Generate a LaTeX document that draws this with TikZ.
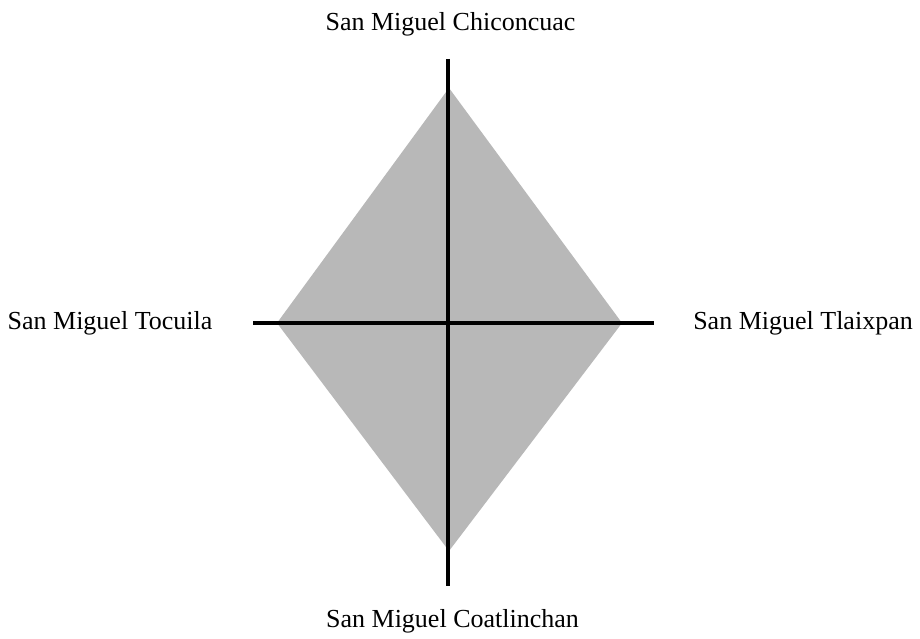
\documentclass[tikz,border=0pt]{standalone}
\usepackage{fontspec}
\setmainfont{Liberation Serif}
\definecolor{diamondgray}{RGB}{184,184,184}
\tikzset{
  lbl/.style={anchor=base, inner sep=0pt, font=\fontsize{26}{30}\selectfont},
  axisline/.style={draw=black, line width=4.5pt},
}
\begin{document}
\begin{tikzpicture}[x=1pt, y=-1pt]
\useasboundingbox[fill=white] (0,0) rectangle (920,639);
% diamond vertices
\coordinate (dt) at (449,88);
\coordinate (dr) at (622,323);
\coordinate (db) at (449,551);
\coordinate (dl) at (277,323);
\fill[diamondgray] (dt) -- (dr) -- (db) -- (dl) -- cycle;
% axis ends
\coordinate (vt) at (448,59);
\coordinate (vb) at (448,586);
\coordinate (hl) at (253,323);
\coordinate (hr) at (654,323);
\draw[axisline] (vt) -- (vb);
\draw[axisline] (hl) -- (hr);
% labels
\node[lbl] (top) at (450.5,31) {San Miguel Chiconcuac};
\node[lbl] (left) at (110,329) {San Miguel Tocuila};
\node[lbl] (right) at (803,329) {San Miguel Tlaixpan};
\node[lbl] (bottom) at (452.5,627) {San Miguel Coatlinchan};
\end{tikzpicture}
\end{document}
